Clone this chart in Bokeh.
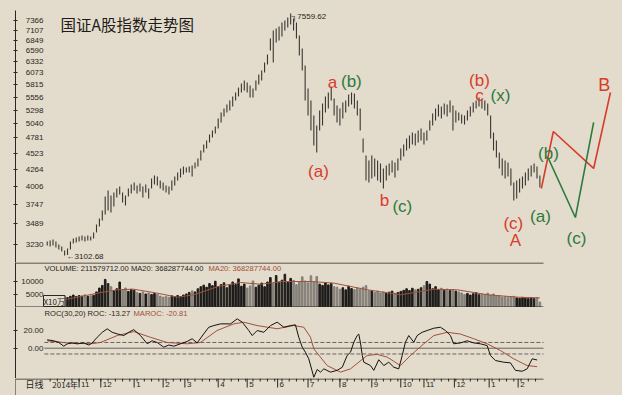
from bokeh.plotting import figure
from bokeh.layouts import column
from bokeh.models import Range1d, FixedTicker, Span, Label, CustomJSTickFormatter, ColumnDataSource
from bokeh.core.properties import value
from bokeh.embed import file_html
from bokeh.resources import INLINE

# ---------------- data ----------------
# one bar every 2 trading days, from late Oct 2014 to Feb 2016
price_hi = [3267, 3279, 3291, 3267, 3231, 3208, 3160, 3184, 3267, 3304,
            3316, 3328, 3341, 3328, 3341, 3328, 3377, 3478, 3555, 3661,
            3856, 3941, 3870, 3913, 3970, 4000, 3913, 3870, 3970, 4029,
            4059, 4014, 4044, 4000, 4029, 3970, 4119, 4165, 4150, 4088,
            4059, 4014, 4000, 4088, 4150, 4211, 4274, 4306, 4290, 4306,
            4322, 4369, 4434, 4566, 4669, 4737, 4844, 4915, 4989, 5137,
            5252, 5330, 5409, 5488, 5570, 5653, 5758, 5843, 5907, 5864,
            5800, 5736, 5907, 6040, 6128, 6311, 6500, 6894, 7100, 7153,
            7206, 7313, 7366, 7449, 7560, 7421, 7313, 6972, 6645, 6242,
            5736, 5488, 5195, 5007, 5290, 5429, 5570, 5653, 5779, 5529,
            5389, 5330, 5448, 5488, 5612, 5653, 5632, 5488, 5330, 4773,
            4483, 4401, 4483, 4434, 4401, 4353, 4274, 4322, 4353, 4401,
            4369, 4434, 4600, 4669, 4773, 4826, 4879, 4862, 4915, 4952,
            4879, 4915, 5099, 5233, 5330, 5409, 5369, 5429, 5409, 5488,
            5389, 5290, 5252, 5214, 5195, 5290, 5369, 5448, 5488, 5550,
            5509, 5488, 5429, 5195, 4879, 4737, 4533, 4434, 4401, 4369,
            4274, 4059, 4088, 4119, 4150, 4211, 4274, 4322, 4353, 4306, 4165]
price_lo = [3220, 3208, 3220, 3196, 3172, 3149, 3103, 3110, 3172, 3243,
            3255, 3267, 3279, 3267, 3279, 3279, 3304, 3377, 3453, 3529,
            3608, 3661, 3635, 3716, 3842, 3884, 3771, 3730, 3856, 3898,
            3941, 3898, 3927, 3842, 3913, 3827, 3970, 4029, 4014, 3970,
            3941, 3913, 3884, 3941, 4014, 4088, 4134, 4180, 4211, 4211,
            4150, 4274, 4306, 4401, 4533, 4600, 4703, 4790, 4862, 4952,
            5062, 5175, 5252, 5290, 5369, 5488, 5570, 5653, 5694, 5653,
            5550, 5550, 5694, 5822, 5907, 6084, 6265, 6596, 6311, 6794,
            6843, 6946, 7100, 7180, 7260, 7100, 6894, 6476, 6128, 5488,
            5195, 4915, 4651, 4533, 4915, 5007, 5252, 5330, 5488, 5195,
            5062, 5007, 5137, 5252, 5369, 5409, 5330, 5195, 4915, 4533,
            4088, 4059, 4119, 4150, 4088, 4059, 3970, 4088, 4165, 4211,
            4134, 4242, 4401, 4467, 4566, 4600, 4669, 4651, 4703, 4737,
            4669, 4737, 4915, 5007, 5099, 5175, 5137, 5214, 5175, 5252,
            4915, 5062, 5099, 5044, 5026, 5099, 5175, 5252, 5330, 5369,
            5330, 5290, 5195, 4773, 4566, 4451, 4274, 4165, 4119, 4150,
            4014, 3799, 3827, 3913, 3970, 4014, 4088, 4150, 4211, 4119, 3985]
volume = [3900, 3600, 4100, 3700, 3500, 3900, 4300, 3800,
          4300, 4800, 4200, 4600, 4400, 4900, 4300, 4500, 4700,
          6000, 7500, 8500, 10800, 9200,
          8000, 6500, 7200, 9800, 6800, 7500, 6200, 7000, 6600,
          5800, 5400, 6000, 5200, 5600, 5000, 5400, 5100,
          4400, 4000, 4300, 3900, 4500, 4100, 4600, 4200, 4800,
          5200, 5800, 6400, 6000, 7200, 8000,
          8600, 7800, 9200, 8400, 10100, 8000, 8800, 9500, 7600, 8600, 9800,
          8800, 11000, 8200, 9000, 7500, 8300, 10200, 7800, 8600, 9400, 8000, 9800,
          11500, 9200, 12300, 9800, 10500, 12800, 9600, 11200, 10400, 8800, 9900, 11800, 10200, 9500, 12200,
          9800, 11900, 9000, 8500, 9600, 8700, 9300, 8000,
          7800, 7000, 7600, 6800, 8200, 7300, 6900, 7500, 7100, 7800, 8400, 6400,
          6500, 5800, 6300, 5600, 6000, 5400, 5900, 6300, 5500, 5800, 6200,
          6600, 7200, 6500, 7400, 6800, 7000, 7600, 8400, 10000,
          9000, 7200, 8000, 6800, 7400, 6600, 7100, 6500, 6900, 6300, 6000,
          5600, 5000, 5400, 4800, 5300, 5700, 4900, 5200, 5000, 5500,
          4800, 5200, 4400, 4600, 4000, 4200, 3800, 4100, 4300, 3700, 3500, 3900, 3600, 3400, 3700, 3500, 3800, 2116]
vol_ma_day = [0, 14, 37, 48.5, 59.5, 76, 90, 101, 118, 133.4, 147, 163, 182, 198, 221, 244, 267, 283, 304, 325, 340]
vol_ma = [3577, 3192, 5770, 6808, 7038, 5500, 3960, 4885, 8077, 9615, 8960, 10000, 10000, 9346, 6808, 4885, 7038, 6808, 4885, 3960, 3683]
roc_day = [0, 4.5, 8, 11.4, 13.8, 17.2, 20.7, 25.2, 28.7, 31, 34.5, 38, 41.4, 44.8, 48.3, 52.8, 56.3, 59.7, 64.4, 69,
           72.4, 75.9, 80.4, 83.9, 87.4, 92, 96.6, 100, 103.5, 108, 111.5, 115, 119.6, 126.5, 131.1, 134.6, 139.1, 141.5,
           144.9, 149.5, 154.1, 158.7, 163.3, 167.9, 171.3, 173.6, 176, 178.2, 180.5, 184, 186.3, 188.6, 190.9, 195.5,
           200.1, 203.6, 207, 209.3, 211.6, 213.9, 215, 216.2, 217.4, 218.5, 223.1, 225.4, 228.8, 232.3, 235.7, 239.2,
           242.6, 245, 247.2, 249.5, 253, 255.3, 258.7, 262.2, 266.8, 271.4, 274.8, 278.3, 280.5, 285.2, 289.8, 294.3,
           298.9, 303.6, 305.9, 309.3, 315.1, 319.7, 323.1, 327.8, 331.2, 334.7, 338.1]
roc = [9.5, 8.4, 6.5, 2.3, 4.9, 6, 4.9, 6, 3.6, 6, 12.4, 18, 21.9, 18, 16.2, 14.3, 18, 21, 14.3, 5,
       8.4, 6.5, 1.2, 3.6, 2.3, 5, 7.7, 10.7, 6, 16.2, 23.7, 25.6, 27.5, 27.5, 33.2, 29.4, 20, 14.3,
       20, 18, 25.6, 29.4, 23.7, 25.6, 26.4, 12.4, 1.2, -4.5, -12, -32.8, -24, -27, -23.3, -27,
       -25, -21.5, -8.2, -4.5, 6.8, 14.3, 16, 6, -8, -15.8, -19.6, -25, -13, -19.6, -15.8, -21.5,
       -23.3, -8.2, 6.8, 14.3, 6.8, 14.3, 18, 20, 22.6, 23.7, 20, 14.3, 5, 6, 8.4, 6,
       5, 3, -8.2, -13.9, -15.8, -16.5, -25, -26, -23.3, -12, -13.27]
maroc_day = [0, 13.8, 29.9, 36.8, 48.3, 59.7, 71.2, 82.7, 96.6, 105.7, 117.2, 128.7, 135.6, 144.9, 158.7, 170.2,
             177.1, 181.7, 184, 193.2, 202.4, 209.3, 220.8, 227.7, 234.6, 243.8, 250.7, 259.9, 266.8, 276.1,
             285.2, 294.4, 303.6, 312.8, 322, 331.2, 338.1]
maroc = [8.4, 6, 5, 6.5, 14.3, 18.8, 12.4, 6.5, 5, 6.5, 20, 27.5, 29.4, 25.6, 22, 25.6,
         23.7, 12.4, -0.7, -19.6, -27, -23.3, -8.2, -7, -10, -19.6, -8.2, 5, 14.3, 18,
         16, 10.7, 5, -2.6, -12, -19.6, -20.81]
price_ticks = [7366, 7107, 6849, 6590, 6332, 6073, 5815, 5556, 5298, 5040, 4781, 4523, 4264, 4006, 3747, 3489, 3230]
vol_ticks = [10000, 5000]
roc_ticks = [20, 0]
roc_levels = [6.5, 0, -6.5]
month_ticks = [22, 37, 60, 80, 95, 118, 138, 159, 180, 202, 224, 244, 260, 281, 305, 325]
month_labels = ["11", "12", "1", "2", "3", "4", "5", "6", "7", "8", "9", "10", "11", "12", "1", "2"]
# projected wave paths
red_path_day = [341, 349.3, 377.1, 388.7]
red_path = [3970, 4897, 4274, 5652]
green_path_day = [345.9, 364.5, 377.1]
green_path = [4434, 3568, 5062]
wave_text = ["a", "(b)", "(b)", "c", "(x)", "(a)", "b", "(c)", "(b)", "(c)", "(a)", "A", "(c)"]
wave_day = [196.8, 209.9, 298.3, 298.3, 312.8, 187.2, 232.7, 245.1, 345.9, 321.7, 340.4, 323.1, 365.2]
wave_price = [5864, 5886, 5900, 5600, 5591, 4227, 3799, 3716, 4516, 3491, 3582, 3279, 3304]
wave_is_red = [1, 0, 1, 1, 0, 1, 1, 0, 0, 1, 0, 1, 0]
big_text, big_day, big_price = "B", 384.5, 5800

# ---------------- styling ----------------
BG = "#e3dbcb"
INK = "#2a2622"
RED = "#d83c2a"
GREEN = "#2c7a3e"
MA_COL = "#a0503c"
FONT = "Liberation Sans"
CJK = "Noto Sans CJK SC"
W = 622
X0 = -21.9
X1_LOW = 342.5
X1 = 391.5
P_Y0, P_Y1 = 3024, 7642
V_H = 45
V_Y1 = 17308
R_Y0, R_Y1 = -34.2, 46.0
L_H = 17

bar_day = [2 * i for i in range(len(price_hi))]
blank = CustomJSTickFormatter(code="return ''")


def base_fig(height, yr, **kw):
    f = figure(width=W, height=height, x_range=Range1d(X0, X1), y_range=yr, output_backend="svg",
               toolbar_location=None, x_axis_location=None,
               background_fill_color=BG, border_fill_color=BG, outline_line_color=None,
               min_border_left=15, min_border_right=8, min_border_top=0, min_border_bottom=0, **kw)
    f.grid.visible = False
    return f


def style_yaxis(f, ticks):
    ax = f.yaxis[0]
    ax.ticker = FixedTicker(ticks=ticks)
    ax.formatter = blank
    ax.major_tick_in = 2
    ax.major_tick_out = 2
    ax.minor_tick_line_color = None
    ax.major_label_standoff = 0
    ax.major_label_text_font_size = "0px"
    ax.axis_line_color = INK
    ax.major_tick_line_color = INK


def tick_text(f, ticks, labels):
    f.text(x=[X0] * len(ticks), y=ticks, text=labels, x_offset=28, text_align="right",
           text_baseline="middle", text_font=value(FONT), text_font_size="8px", text_color=INK)


# ---- price panel ----
p = base_fig(262, Range1d(P_Y0, P_Y1), y_axis_type="log")
p.min_border_top = 10
style_yaxis(p, price_ticks)
p.segment(x0=bar_day, y0=price_lo, x1=bar_day, y1=price_hi, line_color="#3b3631", line_width=1.1)
tick_text(p, price_ticks, [str(t) for t in price_ticks])
ipk = price_hi.index(max(price_hi))
ilo = price_lo.index(min(price_lo))
p.text(x=[bar_day[ipk]], y=[price_hi[ipk]], text=["\u2510" + "7559.62"], x_offset=1, y_offset=3,
       text_align="left", text_baseline="middle", text_font=value(FONT), text_font_size="8px", text_color=INK)
p.text(x=[bar_day[ilo]], y=[price_lo[ilo]], text=["\u2190" + "3102.68"], x_offset=2, y_offset=1,
       text_align="left", text_baseline="middle", text_font=value(FONT), text_font_size="8px", text_color=INK)
p.text(x=[X0], y=[P_Y1], text=["国证A股指数走势图"], x_offset=45, y_offset=2,
       text_align="left", text_baseline="top", text_font=value(CJK), text_font_size="15.5px", text_color="#1e1b18")
p.line(red_path_day, red_path, line_color=RED, line_width=1.6)
p.line(green_path_day, green_path, line_color=GREEN, line_width=1.6)
wsrc = ColumnDataSource(dict(x=wave_day, y=wave_price, t=wave_text,
                             c=[RED if r else GREEN for r in wave_is_red]))
p.text(x="x", y="y", text="t", text_color="c", source=wsrc, text_align="center",
       text_baseline="alphabetic", text_font=value(FONT), text_font_size="17px")
p.text(x=[big_day], y=[big_price], text=[big_text], text_color=RED, text_align="center",
       text_baseline="alphabetic", text_font=value(FONT), text_font_size="18px")

# ---- volume panel ----
v = base_fig(V_H, Range1d(0, V_Y1))
style_yaxis(v, vol_ticks)
mids = [(a + b) / 2 for a, b in zip(price_hi, price_lo)]
vcol = ["#1e1c1a" if i == 0 or mids[i] >= mids[i - 1] else "#858079" for i in range(len(mids))]
v.vbar(x=bar_day, top=volume, width=1.1, color=vcol)
v.line(vol_ma_day, vol_ma, line_color=MA_COL, line_width=1)
half = V_Y1 * 0.5 / V_H
v.segment(x0=[X0, X0], y0=[V_Y1 - half, half], x1=[X1_LOW, X1_LOW], y1=[V_Y1 - half, half],
          line_color=INK, line_width=1)
tick_text(v, vol_ticks, [str(t) for t in vol_ticks])
v.text(x=[X0], y=[V_Y1], text=["VOLUME: 211579712.00  MA20: 368287744.00"], x_offset=29, y_offset=1,
       text_align="left", text_baseline="top", text_font=value(FONT), text_font_size="7.6px", text_color=INK)
v.text(x=[X0], y=[V_Y1], text=["MA20: 368287744.00"], x_offset=193, y_offset=1,
       text_align="left", text_baseline="top", text_font=value(FONT), text_font_size="7.6px", text_color=MA_COL)
v.add_layout(Label(x=X0, y=0, x_offset=28, y_offset=1, text="X10万", text_font=CJK, text_font_size="8px",
                   text_color=INK, border_line_color=INK, background_fill_color=BG,
                   text_align="left", text_baseline="bottom"))

# ---- ROC panel ----
r = base_fig(71, Range1d(R_Y0, R_Y1))
style_yaxis(r, roc_ticks)
for lvl, dash in zip(roc_levels, ["4 2", "solid", "4 2"]):
    r.segment(x0=[-2], y0=[lvl], x1=[X1_LOW], y1=[lvl], line_color="#4a4540", line_width=0.8, line_dash=dash)
r.line(maroc_day, maroc, line_color=MA_COL, line_width=1)
r.line(roc_day, roc, line_color="#141210", line_width=1)
tick_text(r, roc_ticks, ["%.2f" % t for t in roc_ticks])
r.text(x=[X0], y=[R_Y1], text=["ROC(30,20) ROC: -13.27"], x_offset=29, y_offset=1,
       text_align="left", text_baseline="top", text_font=value(FONT), text_font_size="7.6px", text_color=INK)
r.text(x=[X0], y=[R_Y1], text=["MAROC: -20.81"], x_offset=118, y_offset=1,
       text_align="left", text_baseline="top", text_font=value(FONT), text_font_size="7.6px", text_color=MA_COL)

# ---- date row ----
lf = base_fig(L_H, Range1d(0, 1), y_axis_location=None)
top = 1 - 0.5 / L_H
lf.segment(x0=[X0], y0=[top], x1=[X1_LOW], y1=[top], line_color=INK, line_width=1)
lf.add_layout(Span(location=X0, dimension="height", line_color=INK, line_width=1))
minor = [d for d in range(2, 342, 5)]
lf.segment(x0=minor, y0=[1] * len(minor), x1=minor, y1=[1 - 3.0 / L_H] * len(minor), line_color=INK, line_width=1)
lf.segment(x0=month_ticks, y0=[1] * len(month_ticks), x1=month_ticks, y1=[1 - 9.0 / L_H] * len(month_ticks),
           line_color=INK, line_width=1)
ty = 1 - 5.5 / L_H
lf.text(x=month_ticks, y=[ty] * len(month_ticks), text=month_labels, x_offset=2,
        text_align="left", text_baseline="middle", text_font=value(FONT), text_font_size="8px", text_color=INK)
lf.text(x=[month_ticks[0]], y=[ty], text=["2014年"], x_offset=-1,
        text_align="right", text_baseline="middle", text_font=value(CJK), text_font_size="8px", text_color=INK)
lf.text(x=[X0], y=[ty], text=["日线"], x_offset=10,
        text_align="left", text_baseline="middle", text_font=value(CJK), text_font_size="9px", text_color=INK)

layout = column(p, v, r, lf, spacing=0)
tmpl = "{% block postamble %}<style>html, body { background: " + BG + "; }</style>{% endblock %}"
open("out.html", "w").write(file_html(layout, INLINE, template=tmpl))
